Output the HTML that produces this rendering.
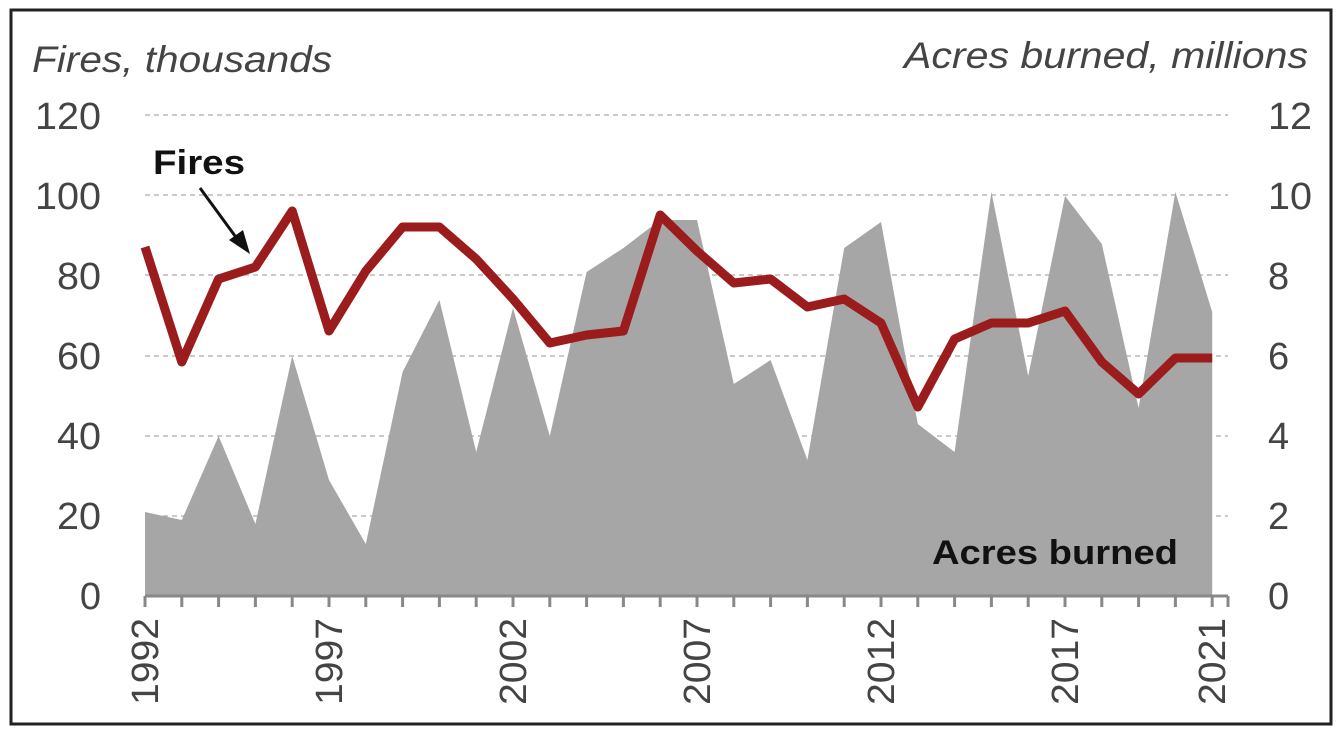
<!DOCTYPE html>
<html><head><style>
body{margin:0;background:#fff;}
svg{display:block;}
text{font-family:"Liberation Sans",sans-serif;}
</style></head><body>
<svg width="1340" height="736" viewBox="0 0 1340 736">
<rect x="0" y="0" width="1340" height="736" fill="#fff"/>
<rect x="11" y="10" width="1320" height="714" fill="#fff" stroke="#222" stroke-width="3"/>
<g stroke="#aaa" stroke-width="1.2" stroke-dasharray="5,4">
<line x1="145" x2="1228" y1="115" y2="115"/>
<line x1="145" x2="1228" y1="195" y2="195"/>
<line x1="145" x2="1228" y1="275" y2="275"/>
<line x1="145" x2="1228" y1="356" y2="356"/>
<line x1="145" x2="1228" y1="436" y2="436"/>
<line x1="145" x2="1228" y1="516" y2="516"/>
</g>
<polygon fill="#a6a6a6" points="145,596 145,512 181.8,520 218.6,436 255.4,524 292.2,356 329,480 365.8,544 402.6,372 439.4,300 476.2,452 513,308 549.8,436 586.6,272 623.4,248 660.2,220 697,220 733.8,384 770.6,360 807.4,460 844.2,248 881,222 917.8,424 954.6,452 991.4,192 1028.2,376 1065,196 1101.8,244 1138.6,408 1175.4,192 1212.2,312 1212.2,596"/>
<polyline fill="none" stroke="#9b1c1c" stroke-width="9" stroke-linejoin="round" points="145,247 181.8,362 218.6,279 255.4,267 292.2,211 329,331 365.8,271 402.6,227 439.4,227 476.2,259 513,299 549.8,343 586.6,335 623.4,331 660.2,215 697,251 733.8,283 770.6,279 807.4,307 844.2,299 881,323 917.8,407 954.6,339 991.4,323 1028.2,323 1065,311 1101.8,362 1138.6,394 1175.4,358 1212.2,358"/>
<line x1="145" x2="1228" y1="596" y2="596" stroke="#888" stroke-width="3"/>
<g stroke="#888" stroke-width="3">
<line x1="145" x2="145" y1="596" y2="607"/><line x1="181.8" x2="181.8" y1="596" y2="607"/><line x1="218.6" x2="218.6" y1="596" y2="607"/><line x1="255.4" x2="255.4" y1="596" y2="607"/><line x1="292.2" x2="292.2" y1="596" y2="607"/><line x1="329" x2="329" y1="596" y2="607"/><line x1="365.8" x2="365.8" y1="596" y2="607"/><line x1="402.6" x2="402.6" y1="596" y2="607"/><line x1="439.4" x2="439.4" y1="596" y2="607"/><line x1="476.2" x2="476.2" y1="596" y2="607"/><line x1="513" x2="513" y1="596" y2="607"/><line x1="549.8" x2="549.8" y1="596" y2="607"/><line x1="586.6" x2="586.6" y1="596" y2="607"/><line x1="623.4" x2="623.4" y1="596" y2="607"/><line x1="660.2" x2="660.2" y1="596" y2="607"/><line x1="697" x2="697" y1="596" y2="607"/><line x1="733.8" x2="733.8" y1="596" y2="607"/><line x1="770.6" x2="770.6" y1="596" y2="607"/><line x1="807.4" x2="807.4" y1="596" y2="607"/><line x1="844.2" x2="844.2" y1="596" y2="607"/><line x1="881" x2="881" y1="596" y2="607"/><line x1="917.8" x2="917.8" y1="596" y2="607"/><line x1="954.6" x2="954.6" y1="596" y2="607"/><line x1="991.4" x2="991.4" y1="596" y2="607"/><line x1="1028.2" x2="1028.2" y1="596" y2="607"/><line x1="1065" x2="1065" y1="596" y2="607"/><line x1="1101.8" x2="1101.8" y1="596" y2="607"/><line x1="1138.6" x2="1138.6" y1="596" y2="607"/><line x1="1175.4" x2="1175.4" y1="596" y2="607"/><line x1="1212.2" x2="1212.2" y1="596" y2="607"/><line x1="1228" x2="1228" y1="596" y2="607"/>
</g>
<g font-size="38" fill="#444" text-anchor="end" lengthAdjust="spacingAndGlyphs">
<text x="101" y="129" textLength="66" lengthAdjust="spacingAndGlyphs">120</text><text x="101" y="209" textLength="66" lengthAdjust="spacingAndGlyphs">100</text><text x="101" y="289" textLength="44" lengthAdjust="spacingAndGlyphs">80</text><text x="101" y="369" textLength="44" lengthAdjust="spacingAndGlyphs">60</text><text x="101" y="449" textLength="44" lengthAdjust="spacingAndGlyphs">40</text><text x="101" y="529" textLength="44" lengthAdjust="spacingAndGlyphs">20</text><text x="101" y="609">0</text>
</g>
<g font-size="38" fill="#444" text-anchor="start">
<text x="1268" y="129" textLength="44" lengthAdjust="spacingAndGlyphs">12</text><text x="1268" y="209" textLength="44" lengthAdjust="spacingAndGlyphs">10</text><text x="1268" y="289">8</text><text x="1268" y="369">6</text><text x="1268" y="449">4</text><text x="1268" y="529">2</text><text x="1268" y="609">0</text>
</g>
<g font-size="38" fill="#444" text-anchor="end">
<text transform="translate(158,618) rotate(-90)" textLength="87" lengthAdjust="spacingAndGlyphs">1992</text>
<text transform="translate(342,618) rotate(-90)" textLength="87" lengthAdjust="spacingAndGlyphs">1997</text>
<text transform="translate(526,618) rotate(-90)" textLength="87" lengthAdjust="spacingAndGlyphs">2002</text>
<text transform="translate(710,618) rotate(-90)" textLength="87" lengthAdjust="spacingAndGlyphs">2007</text>
<text transform="translate(894,618) rotate(-90)" textLength="87" lengthAdjust="spacingAndGlyphs">2012</text>
<text transform="translate(1078,618) rotate(-90)" textLength="87" lengthAdjust="spacingAndGlyphs">2017</text>
<text transform="translate(1225,618) rotate(-90)" textLength="87" lengthAdjust="spacingAndGlyphs">2021</text>
</g>
<text x="32" y="72" font-size="37" font-style="italic" fill="#444" textLength="300" lengthAdjust="spacingAndGlyphs">Fires, thousands</text>
<text x="904" y="68" font-size="37" font-style="italic" fill="#444" textLength="404" lengthAdjust="spacingAndGlyphs">Acres burned, millions</text>
<text x="153" y="174" font-size="34" font-weight="bold" fill="#111" textLength="92" lengthAdjust="spacingAndGlyphs">Fires</text>
<line x1="200" y1="188" x2="238" y2="240" stroke="#111" stroke-width="3"/>
<polygon points="250,254 229,240 243,230" fill="#111"/>
<text x="932" y="564" font-size="34" font-weight="bold" fill="#111" textLength="246" lengthAdjust="spacingAndGlyphs">Acres burned</text>
</svg>
</body></html>
